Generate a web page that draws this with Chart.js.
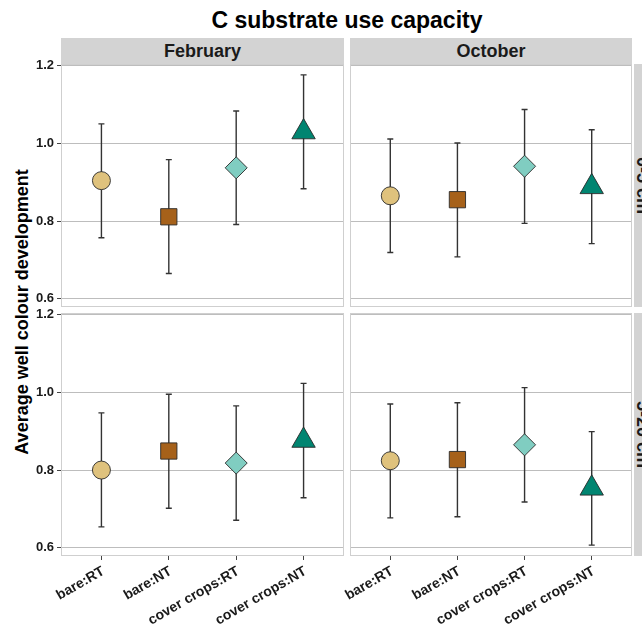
<!DOCTYPE html>
<html>
<head>
<meta charset="utf-8">
<title>C substrate use capacity</title>
<script src="https://cdn.jsdelivr.net/npm/chart.js@4.4.1/dist/chart.umd.min.js"></script>
<style>
  html, body { margin:0; padding:0; background:#fff; overflow:hidden; }
  #fig { position:relative; width:642px; height:633px; overflow:hidden;
         font-family:"Liberation Sans", Arial, sans-serif; color:#1a1a1a; }
  .titulo { position:absolute; left:61px; width:572px; top:9px; text-align:center;
            font-weight:bold; font-size:23px; line-height:23px; color:#000; }
  .eixoY { position:absolute; left:22px; top:312px; transform:translate(-50%,-50%) rotate(-90deg);
           white-space:nowrap; font-weight:bold; font-size:18px; color:#000; }
  .strip { position:absolute; background:#d3d3d3; display:flex; align-items:center;
           justify-content:center; font-weight:bold; font-size:18px; }
  .strip.v span { transform:rotate(90deg); white-space:nowrap; display:block; }
  canvas { position:absolute; }
</style>
</head>
<body>
<div id="fig">
  <div class="titulo">C substrate use capacity</div>
  <div class="eixoY">Average well colour development</div>

  <div class="strip" id="stripFev" style="left:61px;top:38px;width:283px;height:26px;"></div>
  <div class="strip" id="stripOut" style="left:350px;top:38px;width:282px;height:26px;"></div>
  <div class="strip v" id="stripRaso" style="left:634px;top:64px;width:17px;height:243px;"><span></span></div>
  <div class="strip v" id="stripFundo" style="left:634px;top:313px;width:17px;height:243px;"><span></span></div>

  <canvas id="pFevRaso"   width="344" height="263" style="left:0;top:54px;"></canvas>
  <canvas id="pOutRaso"   width="292" height="263" style="left:340px;top:54px;"></canvas>
  <canvas id="pFevFundo"  width="344" height="330" style="left:0;top:303px;"></canvas>
  <canvas id="pOutFundo"  width="292" height="330" style="left:340px;top:303px;"></canvas>
</div>

<script>
// ===== Dados =====
const categorias = ['bare:RT', 'bare:NT', 'cover crops:RT', 'cover crops:NT'];
const meses = ['February', 'October'];
const profundidades = ['0-5 cm', '5-20 cm'];
const yTicks = [0.6, 0.8, 1.0, 1.2];

// fevereiro, 0-5 cm
const fevRasoMedia = [0.904, 0.811, 0.937, 1.029];
const fevRasoInf   = [0.757, 0.665, 0.791, 0.883];
const fevRasoSup   = [1.050, 0.958, 1.083, 1.176];
// outubro, 0-5 cm
const outRasoMedia = [0.865, 0.855, 0.941, 0.888];
const outRasoInf   = [0.719, 0.708, 0.794, 0.742];
const outRasoSup   = [1.011, 1.001, 1.087, 1.035];
// fevereiro, 5-20 cm
const fevFundoMedia = [0.800, 0.849, 0.818, 0.876];
const fevFundoInf   = [0.654, 0.702, 0.671, 0.729];
const fevFundoSup   = [0.947, 0.995, 0.965, 1.023];
// outubro, 5-20 cm
const outFundoMedia = [0.824, 0.827, 0.865, 0.753];
const outFundoInf   = [0.677, 0.680, 0.718, 0.607];
const outFundoSup   = [0.970, 0.973, 1.012, 0.899];

// ===== Estilo =====
const cores   = ['#dfc27d', '#a6611a', '#80cdc1', '#018571'];
const formas  = ['circle', 'rect', 'rectRot', 'triangle'];
const raios   = [9, 11.5, 11, 13.5];
const fonte   = '"Liberation Sans", Arial, sans-serif';

document.getElementById('stripFev').textContent = meses[0];
document.getElementById('stripOut').textContent = meses[1];
document.querySelector('#stripRaso span').textContent = profundidades[0];
document.querySelector('#stripFundo span').textContent = profundidades[1];

// barras de erro + moldura do painel
const barrasErro = {
  id: 'barrasErro',
  beforeDatasetsDraw(chart, args, opts) {
    const { ctx, chartArea: a, scales: { x, y } } = chart;
    ctx.save();
    ctx.strokeStyle = '#cfcfcf';
    ctx.lineWidth = 1;
    ctx.strokeRect(Math.round(a.left) + 0.5, Math.round(a.top) + 0.5,
                   Math.round(a.right - a.left) - 1, Math.round(a.bottom - a.top) - 1);
    ctx.strokeStyle = '#333';
    ctx.lineWidth = 1.4;
    opts.inf.forEach((lo, i) => {
      const px = x.getPixelForValue(i + 1);
      const yl = y.getPixelForValue(lo), yh = y.getPixelForValue(opts.sup[i]);
      ctx.beginPath();
      ctx.moveTo(px, yl); ctx.lineTo(px, yh);
      ctx.moveTo(px - 3, yl); ctx.lineTo(px + 3, yl);
      ctx.moveTo(px - 3, yh); ctx.lineTo(px + 3, yh);
      ctx.stroke();
    });
    ctx.restore();
  }
};

function painel(id, media, inf, sup, mostrarY, mostrarX) {
  const padEsq = mostrarY ? 0 : 10;
  return new Chart(document.getElementById(id), {
    type: 'scatter',
    data: {
      datasets: [{
        data: media.map((v, i) => ({ x: i + 1, y: v })),
        pointStyle: formas,
        pointRadius: raios,
        pointBackgroundColor: cores,
        pointBorderColor: '#2a2a2a',
        pointBorderWidth: 0.9
      }]
    },
    options: {
      responsive: false,
      animation: false,
      events: [],
      layout: { autoPadding: false, padding: { top: 10, bottom: mostrarX ? 0 : 10, left: padEsq, right: 0 } },
      plugins: {
        legend: { display: false },
        tooltip: { enabled: false },
        barrasErro: { inf, sup }
      },
      scales: {
        x: {
          type: 'linear', min: 0.4, max: 4.6,
          display: mostrarX,
          afterBuildTicks: s => { s.ticks = categorias.map((c, i) => ({ value: i + 1 })); },
          afterFit: s => { s.height = mostrarX ? 77 : 0; s.paddingLeft = 0; s.paddingRight = 0; },
          border: { display: false },
          grid: { display: true, drawOnChartArea: false, drawTicks: true, tickLength: 4, tickColor: '#444', lineWidth: 1 },
          ticks: {
            autoSkip: false, minRotation: 30, maxRotation: 30, padding: 3, labelOffset: 2,
            color: '#1a1a1a', font: { family: fonte, size: 14, weight: 'bold' },
            callback: v => categorias[v - 1]
          }
        },
        y: {
          min: 0.579, max: 1.204,
          afterBuildTicks: s => { s.ticks = yTicks.map(v => ({ value: v })); },
          afterFit: s => { s.width = mostrarY ? 61 : 0; s.paddingTop = 0; s.paddingBottom = 0; },
          border: { display: false },
          grid: { color: '#bdbdbd', lineWidth: 1, drawTicks: mostrarY, tickLength: 4, tickColor: '#444' },
          ticks: {
            display: mostrarY, padding: 3,
            color: '#1a1a1a', font: { family: fonte, size: 13, weight: 'bold' },
            callback: v => v.toFixed(1)
          }
        }
      }
    },
    plugins: [barrasErro]
  });
}

painel('pFevRaso',  fevRasoMedia,  fevRasoInf,  fevRasoSup,  true,  false);
painel('pOutRaso',  outRasoMedia,  outRasoInf,  outRasoSup,  false, false);
painel('pFevFundo', fevFundoMedia, fevFundoInf, fevFundoSup, true,  true);
painel('pOutFundo', outFundoMedia, outFundoInf, outFundoSup, false, true);
</script>
</body>
</html>
